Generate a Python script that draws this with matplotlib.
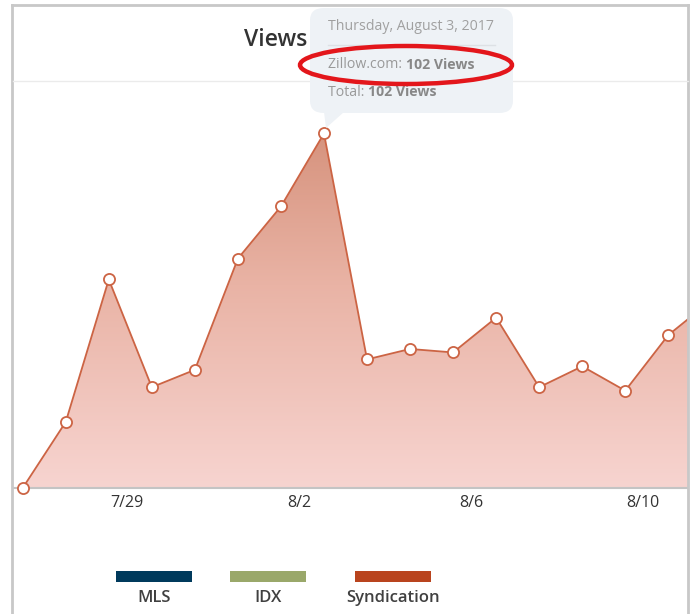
import numpy as np
import matplotlib
matplotlib.use("Agg")
import matplotlib.pyplot as plt
from matplotlib.patches import Polygon, FancyBboxPatch, Ellipse, Rectangle
from matplotlib.colors import LinearSegmentedColormap

plt.rcParams['font.family'] = ['Open Sans', 'DejaVu Sans']

# ---- data ----
views = [0, 19, 60, 29, 34, 66, 81, 102, 37, 40, 39, 49, 29, 35, 28, 44, 54]
tick_days = [2, 6, 10, 14]
tick_labels = ["7/29", "8/2", "8/6", "8/10"]
tick_offset = 0.42
legend_names = ["MLS", "IDX", "Syndication"]
legend_colors = ["#003a5c", "#9aa86a", "#b9441e"]
tooltip_date = "Thursday, August 3, 2017"
tooltip_source = "Zillow.com"
tooltip_value = "102 Views"

W, H = 693, 614
fig = plt.figure(figsize=(W / 100, H / 100), dpi=100)

def fx(px):
    return px / W

def fy(py):
    return 1 - py / H

ax_l, ax_r, ax_t, ax_b = 13, 688, 81, 488
ax = fig.add_axes([fx(ax_l), fy(ax_b), fx(ax_r - ax_l), fy(ax_t) - fy(ax_b)])
x = np.arange(len(views))
step = 43.04
ax.set_xlim(-(22.7 - ax_l) / step, (ax_r - 22.7) / step)
ymax = (ax_b - ax_t) / 3.476
ax.set_ylim(0, ymax)

# gradient fill
cmap = LinearSegmentedColormap.from_list("g", ["#f7d4d0", "#e9b3a5", "#d08870"])
grad = np.linspace(0, 1, 256).reshape(-1, 1)
xl = ax.get_xlim()
img = ax.imshow(grad, extent=[xl[0], xl[1], 0, ymax], origin="lower",
                cmap=cmap, aspect="auto", zorder=1)
verts = [(x[0], 0)] + list(zip(x, views)) + [(x[-1], 0)]
poly = Polygon(verts, closed=True, facecolor="none", edgecolor="none")
ax.add_patch(poly)
img.set_clip_path(poly)
ax.set_xlim(xl)
ax.set_ylim(0, ymax)

ax.plot(x, views, color="#cc6444", lw=1.3, zorder=3)
ax.plot(x, views, linestyle="none", marker="o", ms=8, mfc="white",
        mec="#cc6444", mew=1.3, zorder=4, clip_on=False)

for s in ["top", "right", "left"]:
    ax.spines[s].set_visible(False)
ax.spines["bottom"].set_color("#c4c4c4")
ax.spines["bottom"].set_linewidth(1.5)
ax.set_yticks([])
ax.set_xticks([d + tick_offset for d in tick_days])
ax.set_xticklabels(tick_labels, fontsize=11.5, color="#333333")
ax.tick_params(axis="x", length=0, pad=5)
ax.set_facecolor("none")

# outer border and separator
fig.add_artist(plt.Line2D([fx(12), fx(12)], [fy(5), 0], color="#c8c8c8", lw=2))
fig.add_artist(plt.Line2D([fx(688), fx(688)], [fy(5), 0], color="#c8c8c8", lw=2))
fig.add_artist(plt.Line2D([fx(12), fx(688)], [fy(5), fy(5)], color="#c8c8c8", lw=2))
fig.add_artist(plt.Line2D([fx(13), fx(688)], [fy(81), fy(81)], color="#ebebeb", lw=1))

# title (partly hidden by tooltip)
fig.text(fx(244), fy(40), "Views", fontsize=16.5, color="#333333",
         fontweight="semibold", ha="left", va="center", zorder=1)

# tooltip
tb = FancyBboxPatch((fx(310), fy(113)), fx(513 - 310), fy(8) - fy(113),
                    boxstyle="round,pad=0,rounding_size=0.02",
                    transform=fig.transFigure, facecolor="#eef2f6",
                    edgecolor="none", zorder=10)
fig.add_artist(tb)
ptr = Polygon([(fx(324), fy(112)), (fx(344), fy(112)), (fx(326), fy(128))],
              closed=True, transform=fig.transFigure, facecolor="#eef2f6",
              edgecolor="none", zorder=10)
fig.add_artist(ptr)
fs_tt = 10.2
fig.text(fx(328), fy(27), tooltip_date, fontsize=fs_tt, color="#a0a0a0",
         ha="left", va="center", zorder=11)
fig.add_artist(plt.Line2D([fx(328), fx(495)], [fy(45), fy(45)],
                          color="#dde1e5", lw=1, zorder=11))
t1 = fig.text(fx(328), fy(65), tooltip_source + ": ", fontsize=fs_tt,
              color="#999999", ha="left", va="center", zorder=11)
fig.canvas.draw()
bb = t1.get_window_extent()
fig.text(bb.x1 / W, fy(65), tooltip_value, fontsize=fs_tt, color="#888888",
         fontweight="bold", ha="left", va="center", zorder=11)
t2 = fig.text(fx(328), fy(92), "Total: ", fontsize=fs_tt, color="#999999",
              ha="left", va="center", zorder=11)
fig.canvas.draw()
bb2 = t2.get_window_extent()
fig.text(bb2.x1 / W, fy(92), tooltip_value, fontsize=fs_tt, color="#888888",
         fontweight="bold", ha="left", va="center", zorder=11)

# red hand-drawn ellipse
ell = Ellipse((fx(406), fy(65)), fx(212), fy(46) - fy(84),
              transform=fig.transFigure, facecolor="none",
              edgecolor="#e3161b", lw=3.2, zorder=12)
fig.add_artist(ell)

# legend
centers = [154, 268, 393]
for c, name, col in zip(centers, legend_names, legend_colors):
    fig.add_artist(Rectangle((fx(c - 38), fy(582)), fx(76), fy(571) - fy(582),
                             transform=fig.transFigure, facecolor=col,
                             edgecolor="none"))
    fig.text(fx(c), fy(598), name, fontsize=12, color="#404040",
             fontweight="semibold", ha="center", va="center")

fig.savefig("out.png", dpi=100)
